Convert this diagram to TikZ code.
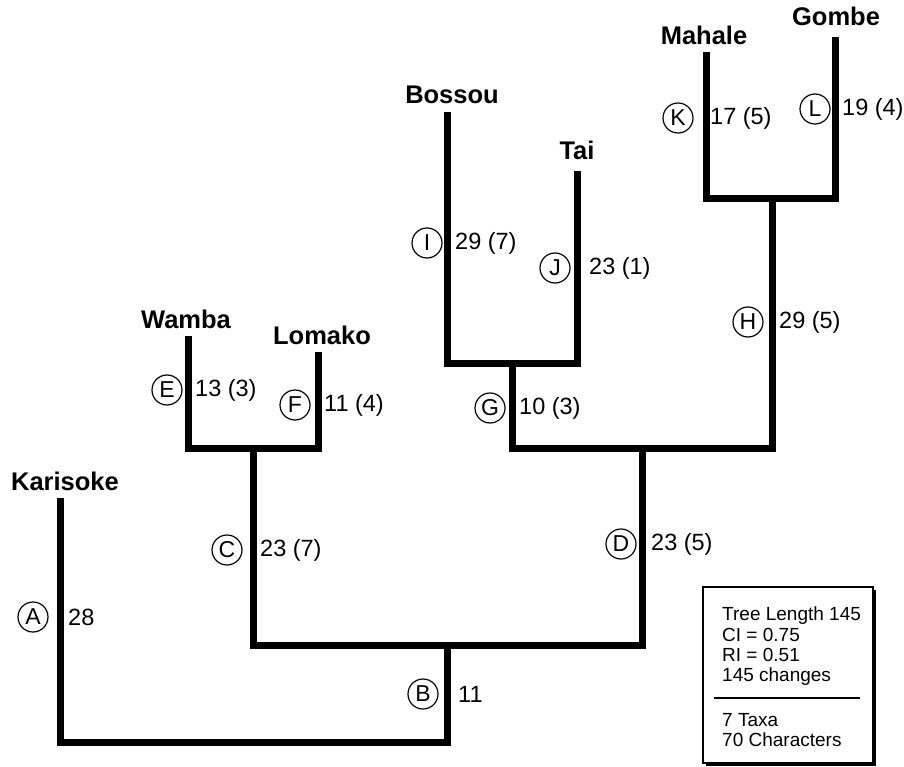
\documentclass[tikz,border=0pt]{standalone}
\usepackage{fontspec}
\setmainfont{Liberation Sans}
\begin{document}
\begin{tikzpicture}[x=1pt,y=-1pt,
  br/.style={line width=7pt,line join=miter,line cap=butt},
  taxon/.style={font=\fontsize{25.5}{28}\selectfont\bfseries,inner sep=0pt,anchor=base},
  clet/.style={circle,draw,line width=1.2pt,minimum size=30pt,inner sep=0pt,font=\fontsize{23}{26}\selectfont},
  blen/.style={anchor=west,inner sep=0pt,font=\fontsize{23.5}{26}\selectfont},
  legtxt/.style={anchor=base west,inner sep=0pt,font=\fontsize{19}{21}\selectfont}]
\useasboundingbox (0,0) rectangle (904,767);
% junction / tip coordinates
\coordinate (kt) at (60,498);
\coordinate (rb) at (447,742);
\coordinate (nB) at (447,645);
\coordinate (cB) at (253,645);
\coordinate (dB) at (642,645);
\coordinate (cT) at (253,448);
\coordinate (dT) at (642,448);
\coordinate (wt) at (188,336);
\coordinate (lt) at (318,352);
\coordinate (gT) at (512,363);
\coordinate (gB) at (512,448);
\coordinate (hB) at (772,448);
\coordinate (hT) at (772,199);
\coordinate (bt) at (447,112);
\coordinate (tt) at (577,171);
\coordinate (mt) at (706,52);
\coordinate (got) at (835,37);
% branches
\draw[br] (kt) |- (rb) -- (nB);
\draw[br] (cT) -- (cB) -- (dB) -- (dT);
\draw[br] (wt) |- (cT) -| (lt);
\draw[br] (gT) -- (gB) -- (hB) -- (hT);
\draw[br] (bt) |- (gT) -| (tt);
\draw[br] (mt) |- (hT) -| (got);
% taxa
\node[taxon] (Karisoke) at (65,490) {Karisoke};
\node[taxon] (Wamba) at (186,328) {Wamba};
\node[taxon] (Lomako) at (322,344) {Lomako};
\node[taxon] (Bossou) at (452,104) {Bossou};
\node[taxon] (Tai) at (577,160) {Tai};
\node[taxon] (Mahale) at (704,45) {Mahale};
\node[taxon] (Gombe) at (836,26) {Gombe};
% branch labels
\node[clet] (cA) at (33,617) {A};  \node[blen] (lA) at (68,617) {28};
\node[clet] (cB2) at (423,694) {B}; \node[blen] (lB) at (458,694) {11};
\node[clet] (cC) at (227,550) {C}; \node[blen] (lC) at (260,550) {23 (7)};
\node[clet] (cD) at (621,544) {D}; \node[blen] (lD) at (651,544) {23 (5)};
\node[clet] (cE) at (167,390) {E}; \node[blen] (lE) at (195,390) {13 (3)};
\node[clet] (cF) at (295,405) {F}; \node[blen] (lF) at (324,405) {11 (4)};
\node[clet] (cG) at (490,408) {G}; \node[blen] (lG) at (519,408) {10 (3)};
\node[clet] (cH) at (748,322) {H}; \node[blen] (lH) at (779,322) {29 (5)};
\node[clet] (cI) at (427,243) {I}; \node[blen] (lI) at (455,243) {29 (7)};
\node[clet] (cJ) at (555,268) {J}; \node[blen] (lJ) at (589,268) {23 (1)};
\node[clet] (cK) at (678,118) {K}; \node[blen] (lK) at (710,118) {17 (5)};
\node[clet] (cL) at (815,109) {L}; \node[blen] (lL) at (842,109) {19 (4)};
% legend
\fill (706,590) rectangle (876,766);
\draw[fill=white,line width=1.3pt] (703,587) rectangle (873,763);
\node[legtxt] (t1) at (722,620) {Tree Length 145};
\node[legtxt] (t2) at (722,641) {CI = 0.75};
\node[legtxt] (t3) at (722,661.5) {RI = 0.51};
\node[legtxt] (t4) at (722,681.5) {145 changes};
\draw[line width=1.5pt] (714,698) -- (860,698);
\node[legtxt] (t5) at (722,726.5) {7 Taxa};
\node[legtxt] (t6) at (722,746) {70 Characters};
\end{tikzpicture}
\end{document}
